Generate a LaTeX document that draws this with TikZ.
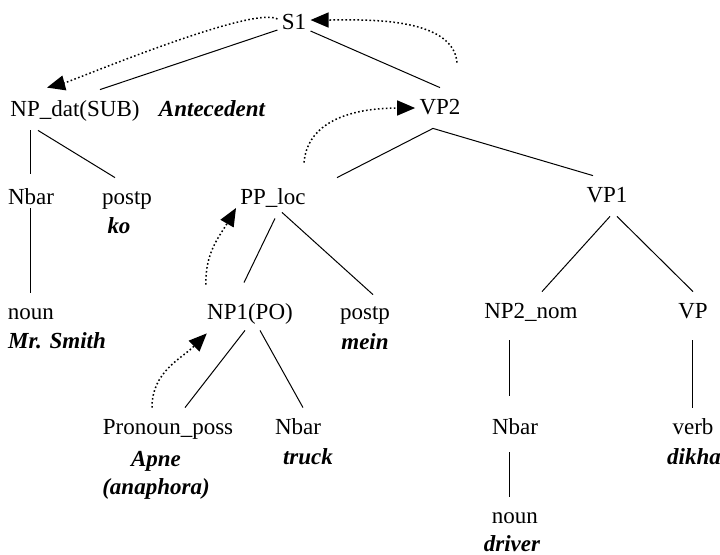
\documentclass[tikz,border=0pt]{standalone}
\usepackage{fontspec}
\setmainfont{Liberation Serif}
\usetikzlibrary{arrows.meta}
\tikzset{
  tnode/.style = {inner xsep=2pt, inner ysep=0pt, minimum height=20pt,
    text height=8pt, text depth=2pt, font=\fontsize{11.5}{14}\selectfont},
  gloss/.style = {tnode, font=\fontsize{11.5}{14}\selectfont\bfseries\itshape},% word in bold italics
  br/.style = {line width=0.5pt},% tree branch
  ref/.style = {line width=0.75pt, dash pattern=on 0.8pt off 1.2pt,
    -{Triangle[length=9pt,width=7.5pt]}}% dotted reference link
}
\begin{document}
\begin{tikzpicture}[x=0.5pt,y=-0.5pt]
\useasboundingbox (0,0) rectangle (720,554);
% labels of the tree
\node [tnode] (s1) at (294,23) {S1};
\node [tnode] (npdat) at (75,110) {NP\_dat(SUB)};
\node [gloss] (ante) at (212,110) {Antecedent};
\node [tnode] (vp2) at (440,108) {VP2};
\node [tnode] (nbar1) at (31,198) {Nbar};
\node [tnode] (postp1) at (127,198) {postp};
\node [gloss] (ko) at (119,227) {ko};
\node [tnode] (pploc) at (273,198) {PP\_loc};
\node [tnode] (vp1) at (607,196) {VP1};
\node [tnode] (noun1) at (31,313) {noun};
\node [gloss] (smith) at (57,342) {Mr. Smith};
\node [tnode] (np1) at (250,313) {NP1(PO)};
\node [tnode] (postp2) at (365,313) {postp};
\node [gloss] (mein) at (365,343) {mein};
\node [tnode] (np2) at (531,312) {NP2\_nom};
\node [tnode] (vp) at (693,312) {VP};
\node [tnode] (pron) at (168,428) {Pronoun\_poss};
\node [gloss] (apne) at (156,460) {Apne};
\node [gloss] (anaph) at (156,488) {(anaphora)};
\node [tnode] (nbar2) at (298,428) {Nbar};
\node [gloss] (truck) at (308,458) {truck};
\node [tnode] (nbar3) at (515,428) {Nbar};
\node [tnode] (verb) at (693,428) {verb};
\node [gloss] (dikha) at (694,458) {dikha};
\node [tnode] (noun3) at (515,517) {noun};
\node [gloss] (driver) at (512,545) {driver};
% branches
\draw [br] ([yshift=-3.5pt]s1.west) -- ([xshift=12.5pt]npdat.north);
\draw [br] ([yshift=-4pt]s1.east) -- (vp2.north);
\draw [br] (nbar1.north |- npdat.south) -- ([yshift=2pt]nbar1.north);
\draw [br] ([xshift=-18.5pt]npdat.south) -- ([xshift=-6pt]postp1.north);
\draw [br] ([yshift=5pt]nbar1.south) -- (noun1.north);
\draw [br] ([xshift=-3.5pt]vp2.south) -- ([xshift=32pt]pploc.north);
\draw [br] ([xshift=-3.5pt]vp2.south) -- ([xshift=-7pt]vp1.north);
\draw [br] ([xshift=1pt]pploc.south) -- ([xshift=-3pt,yshift=5pt]np1.north);
\draw [br] ([xshift=4.5pt,yshift=3pt]pploc.south) -- ([xshift=4pt,yshift=-1pt]postp2.north);
\draw [br] ([xshift=1.5pt]vp1.south) -- ([xshift=5.5pt]np2.north);
\draw [br] ([xshift=5pt]vp1.south) -- (vp.north);
\draw [br] ([xshift=-2.5pt,yshift=1.5pt]np1.south) -- ([xshift=8.5pt]pron.north);
\draw [br] ([xshift=5pt,yshift=1.5pt]np1.south) -- ([xshift=2.5pt]nbar2.north);
\draw [br] ([xshift=-2.5pt,yshift=-4pt]nbar3.north |- np2.south) -- ([xshift=-2.5pt,yshift=6pt]nbar3.north);
\draw [br] ([xshift=-2.5pt,yshift=-2pt]nbar3.south) -- ([xshift=-2.5pt]noun3.north);
\draw [br] ([yshift=-4pt]vp.south) -- (verb.north);
% dotted links
\draw [ref] ([yshift=2pt]s1.west) to[out=150,in=15,looseness=0.3] ([xshift=-14pt,yshift=1pt]npdat.north);
\draw [ref] ([xshift=8.5pt,yshift=12.5pt]vp2.north) to[out=95,in=0,looseness=0.8] ([yshift=1.5pt]s1.east);
\draw [ref] ([xshift=15.5pt,yshift=7.5pt]pploc.north) to[out=85,in=180] (vp2.west);
\draw [ref] ([xshift=-22pt,yshift=4pt]np1.north) to[out=92,in=240] ([yshift=-5pt]pploc.west);
\draw [ref] ([xshift=-8pt]pron.north) to[out=90,in=225] ([xshift=2pt]np1.south west);
\end{tikzpicture}
\end{document}
